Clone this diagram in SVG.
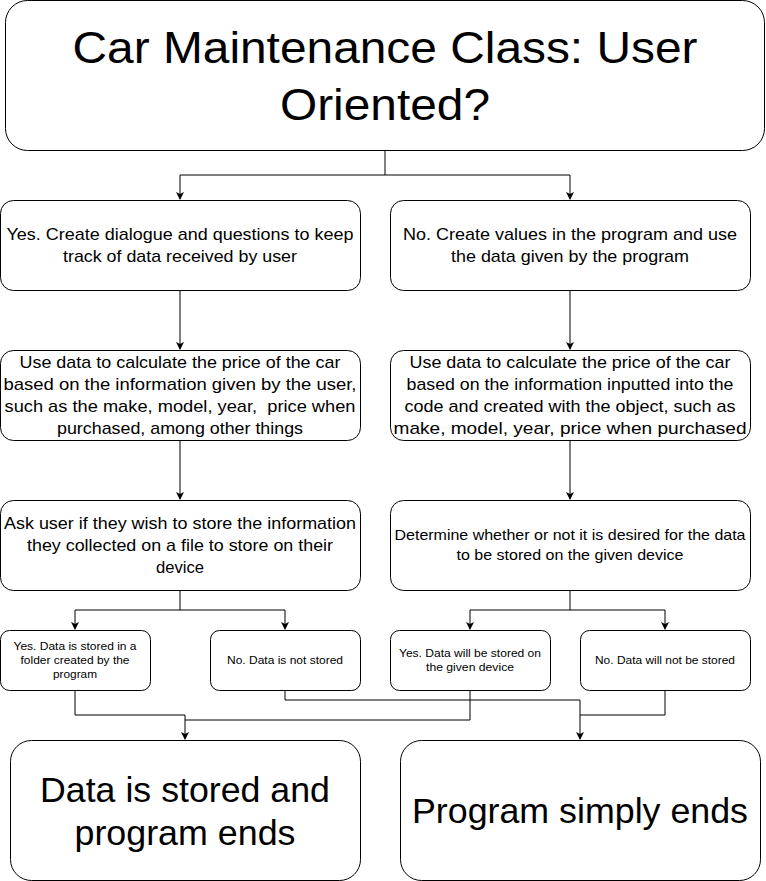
<svg xmlns="http://www.w3.org/2000/svg" width="766" height="881" viewBox="0 0 766 881">
<defs>
<style>
.box{fill:#fff;stroke:#000;stroke-width:1}
.t{font-family:"Liberation Sans",Arial,sans-serif;fill:#000;text-anchor:middle}
.m{font-size:17px}
.s{font-size:11.5px}
.c{fill:none;stroke:#000;stroke-width:1}
</style>
<marker id="ah" markerWidth="8" markerHeight="8" refX="7" refY="4" orient="auto" markerUnits="userSpaceOnUse">
<path d="M0,0 L8,4 L0,8 L2,4 Z" fill="#000"/>
</marker>
</defs>
<rect width="766" height="881" fill="#fff"/>
<g id="connectors">
<path class="c" d="M385,150 V175 H180 V199" marker-end="url(#ah)"/>
<path class="c" d="M385,175 H570 V199" marker-end="url(#ah)"/>
<path class="c" d="M180,290 V349" marker-end="url(#ah)"/>
<path class="c" d="M570,290 V349" marker-end="url(#ah)"/>
<path class="c" d="M180,440 V499" marker-end="url(#ah)"/>
<path class="c" d="M570,440 V499" marker-end="url(#ah)"/>
<path class="c" d="M180,590 V610 H75 V629" marker-end="url(#ah)"/>
<path class="c" d="M180,610 H285 V629" marker-end="url(#ah)"/>
<path class="c" d="M570,590 V610 H470 V629" marker-end="url(#ah)"/>
<path class="c" d="M570,610 H665 V629" marker-end="url(#ah)"/>
<path class="c" d="M75,690 V715 H185 V739" marker-end="url(#ah)"/>
<path class="c" d="M470,690 V720 H185"/>
<path class="c" d="M285,690 V700 H580 V739" marker-end="url(#ah)"/>
<path class="c" d="M665,690 V715 H580"/>
</g>
<g id="top">
<rect class="box" x="5.5" y="0.5" width="759" height="150" rx="22"/>
<text class="t" x="385" y="63" font-size="45" textLength="625" lengthAdjust="spacingAndGlyphs">Car Maintenance Class: User</text>
<text class="t" x="385" y="120" font-size="45" textLength="210" lengthAdjust="spacingAndGlyphs">Oriented?</text>
</g>
<g id="yes1">
<rect class="box" x="0.5" y="200.5" width="360" height="90" rx="13"/>
<text class="t m" x="180" y="240" textLength="347" lengthAdjust="spacingAndGlyphs">Yes. Create dialogue and questions to keep</text>
<text class="t m" x="180" y="262" textLength="234" lengthAdjust="spacingAndGlyphs">track of data received by user</text>
</g>
<g id="no1">
<rect class="box" x="390.5" y="200.5" width="360" height="90" rx="13"/>
<text class="t m" x="570" y="240" textLength="334" lengthAdjust="spacingAndGlyphs">No. Create values in the program and use</text>
<text class="t m" x="570" y="262" textLength="238" lengthAdjust="spacingAndGlyphs">the data given by the program</text>
</g>
<g id="calcYes">
<rect class="box" x="0.5" y="350.5" width="360" height="90" rx="13"/>
<text class="t m" x="180" y="368" textLength="321" lengthAdjust="spacingAndGlyphs">Use data to calculate the price of the car</text>
<text class="t m" x="180" y="390" textLength="353" lengthAdjust="spacingAndGlyphs">based on the information given by the user,</text>
<text class="t m" x="180" y="412" textLength="351" lengthAdjust="spacingAndGlyphs" style="white-space:pre">such as the make, model, year,  price when</text>
<text class="t m" x="180" y="434" textLength="246" lengthAdjust="spacingAndGlyphs">purchased, among other things</text>
</g>
<g id="calcNo">
<rect class="box" x="390.5" y="350.5" width="360" height="90" rx="13"/>
<text class="t m" x="570" y="368" textLength="321" lengthAdjust="spacingAndGlyphs">Use data to calculate the price of the car</text>
<text class="t m" x="570" y="390" textLength="327" lengthAdjust="spacingAndGlyphs">based on the information inputted into the</text>
<text class="t m" x="570" y="412" textLength="331" lengthAdjust="spacingAndGlyphs">code and created with the object, such as</text>
<text class="t m" x="570" y="434" textLength="353" lengthAdjust="spacingAndGlyphs">make, model, year, price when purchased</text>
</g>
<g id="askUser">
<rect class="box" x="0.5" y="500.5" width="360" height="90" rx="13"/>
<text class="t m" x="180" y="529" textLength="352" lengthAdjust="spacingAndGlyphs">Ask user if they wish to store the information</text>
<text class="t m" x="180" y="551" textLength="306" lengthAdjust="spacingAndGlyphs">they collected on a file to store on their</text>
<text class="t m" x="180" y="573" textLength="48" lengthAdjust="spacingAndGlyphs">device</text>
</g>
<g id="determine">
<rect class="box" x="390.5" y="500.5" width="360" height="90" rx="13"/>
<text class="t" x="570" y="540" font-size="15" textLength="351" lengthAdjust="spacingAndGlyphs">Determine whether or not it is desired for the data</text>
<text class="t" x="570" y="560" font-size="15" textLength="227" lengthAdjust="spacingAndGlyphs">to be stored on the given device</text>
</g>
<g id="yesStored">
<rect class="box" x="0.5" y="630.5" width="150" height="60" rx="9"/>
<text class="t s" x="75" y="650" textLength="123" lengthAdjust="spacingAndGlyphs">Yes. Data is stored in a</text>
<text class="t s" x="75" y="664" textLength="109" lengthAdjust="spacingAndGlyphs">folder created by the</text>
<text class="t s" x="75" y="678" textLength="44" lengthAdjust="spacingAndGlyphs">program</text>
</g>
<g id="noStored">
<rect class="box" x="210.5" y="630.5" width="150" height="60" rx="9"/>
<text class="t s" x="285" y="664" textLength="116" lengthAdjust="spacingAndGlyphs">No. Data is not stored</text>
</g>
<g id="yesWill">
<rect class="box" x="390.5" y="630.5" width="160" height="60" rx="9"/>
<text class="t s" x="470" y="657" textLength="142" lengthAdjust="spacingAndGlyphs">Yes. Data will be stored on</text>
<text class="t s" x="470" y="671" textLength="88" lengthAdjust="spacingAndGlyphs">the given device</text>
</g>
<g id="noWill">
<rect class="box" x="580.5" y="630.5" width="170" height="60" rx="9"/>
<text class="t s" x="665" y="664" textLength="140" lengthAdjust="spacingAndGlyphs">No. Data will not be stored</text>
</g>
<g id="endStored">
<rect class="box" x="10.5" y="740.5" width="350" height="140" rx="21"/>
<text class="t" x="185" y="802" font-size="35" textLength="290" lengthAdjust="spacingAndGlyphs">Data is stored and</text>
<text class="t" x="185" y="845" font-size="35" textLength="221" lengthAdjust="spacingAndGlyphs">program ends</text>
</g>
<g id="endSimple">
<rect class="box" x="400.5" y="740.5" width="360" height="140" rx="21"/>
<text class="t" x="580" y="823" font-size="35" textLength="336" lengthAdjust="spacingAndGlyphs">Program simply ends</text>
</g>
</svg>
